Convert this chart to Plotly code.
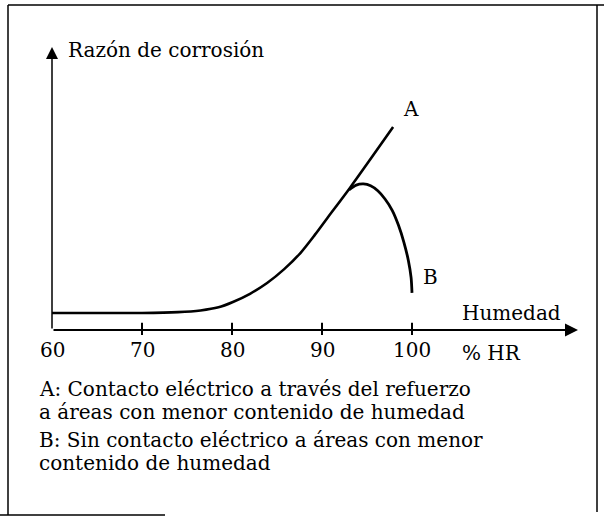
import plotly.graph_objects as go

# humidity (% HR) vs corrosion rate (arbitrary units)
hum_a = [60, 65, 70, 74, 76.5, 78.5, 80.1, 82, 83.9, 85.8, 87.6, 89.2, 90.6, 93.1, 97.9]
rate_a = [6.0, 6.0, 6.0, 6.3, 6.9, 8.0, 9.9, 12.8, 16.6, 21.5, 27.2, 33.6, 39.6, 50.2, 71.7]

hum_b = [93.0, 93.8, 94.6, 95.4, 96.2, 97.0, 97.8, 98.5, 99.1, 99.6, 99.9, 100.0]
rate_b = [49.5, 51.2, 51.6, 51.0, 49.2, 46.3, 42.3, 37.0, 31.0, 24.5, 18.5, 13.1]

tick_vals = [60, 70, 80, 90, 100]
tick_labels = ['60', '70', '80', '90', '100']

y_label = 'Razón de corrosión'
x_label = 'Humedad'
x_unit = '% HR'
notes = ['A: Contacto eléctrico a través del refuerzo',
         'a áreas con menor contenido de humedad',
         'B: Sin contacto eléctrico a áreas con menor',
         'contenido de humedad']

W, H = 604, 519
PXX = 9.0      # pixels per % HR
PXY = 2.83     # pixels per rate unit
X0 = 60 - 52 / PXX
Y1 = 330 / PXY

def hx(px):
    return X0 + px / PXX

def vy(py):
    return Y1 - py / PXY

font = dict(family='DejaVu Serif', size=20, color='black')

fig = go.Figure()
fig.add_trace(go.Scatter(x=hum_a, y=rate_a, mode='lines',
                         line=dict(color='black', width=2.6, shape='spline', smoothing=0.8)))
fig.add_trace(go.Scatter(x=hum_b, y=rate_b, mode='lines',
                         line=dict(color='black', width=2.8, shape='spline', smoothing=0.8)))

ann = []
# axes drawn as arrows
ann.append(dict(x=hx(578), y=0, ax=60, ay=0, xref='x', yref='y', axref='x', ayref='y',
                showarrow=True, arrowhead=2, arrowsize=1.3, arrowwidth=2, arrowcolor='black', text=''))
ann.append(dict(x=60, y=vy(47), ax=60, ay=0, xref='x', yref='y', axref='x', ayref='y',
                showarrow=True, arrowhead=2, arrowsize=1.6, arrowwidth=1.5, arrowcolor='black', text=''))

for v, t in zip(tick_vals, tick_labels):
    ann.append(dict(x=v, y=vy(350), text=t, showarrow=False, xanchor='center', yanchor='middle', font=font))

ann.append(dict(x=hx(66), y=vy(50), text=y_label, showarrow=False, xanchor='left', yanchor='middle', font=font))
ann.append(dict(x=hx(460), y=vy(313), text=x_label, showarrow=False, xanchor='left', yanchor='middle', font=font))
ann.append(dict(x=hx(460), y=vy(353), text=x_unit, showarrow=False, xanchor='left', yanchor='middle', font=font))
ann.append(dict(x=hx(411), y=vy(109), text='A', showarrow=False, xanchor='center', yanchor='middle', font=font))
ann.append(dict(x=hx(430), y=vy(277), text='B', showarrow=False, xanchor='center', yanchor='middle', font=font))

for py, t in zip([389, 412, 440, 463], notes):
    ann.append(dict(x=hx(37), y=vy(py), text=t, showarrow=False, xanchor='left', yanchor='middle', font=font))

# frame around the figure
frame = dict(type='line', xref='x', yref='y', layer='above', line=dict(color='black', width=1.5))
shapes = [
    dict(frame, x0=hx(8), y0=vy(5), x1=hx(604), y1=vy(5)),
    dict(frame, x0=hx(8), y0=vy(5), x1=hx(8), y1=vy(515)),
    dict(frame, x0=hx(597), y0=vy(5), x1=hx(597), y1=vy(512)),
    dict(frame, x0=hx(0), y0=vy(515), x1=hx(165), y1=vy(515)),
]
# tick marks on the humidity axis
for v in tick_vals[1:]:
    shapes.append(dict(frame, x0=v, x1=v, y0=-1.8, y1=2.6, line=dict(color='black', width=2)))

fig.update_layout(
    width=W, height=H,
    margin=dict(l=0, r=0, t=0, b=0),
    paper_bgcolor='white', plot_bgcolor='white',
    showlegend=False,
    xaxis=dict(range=[X0, X0 + W / PXX], visible=False, fixedrange=True),
    yaxis=dict(range=[Y1 - H / PXY, Y1], visible=False, fixedrange=True),
    annotations=ann,
    shapes=shapes,
)

fig.write_html("out.html", config={'displayModeBar': False},
               post_script="document.body.style.margin = '0';")
